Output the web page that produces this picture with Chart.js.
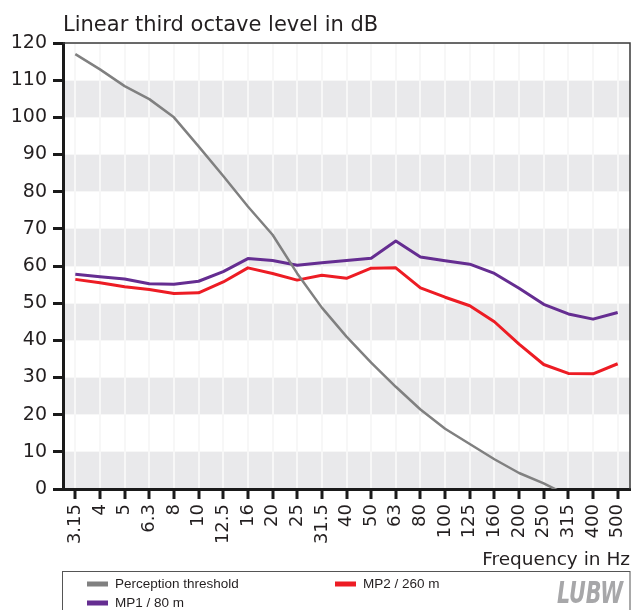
<!DOCTYPE html>
<html>
<head>
<meta charset="utf-8">
<script src="https://cdn.jsdelivr.net/npm/chart.js@4/dist/chart.umd.min.js"></script>
<style>
  html, body { margin: 0; padding: 0; background: #fff; }
  #wrap { width: 631px; height: 610px; }
</style>
</head>
<body>
<div id="wrap"><canvas id="levelChart" width="631" height="610"></canvas></div>
<script>
// third octave band centre frequencies (Hz)
const freqLabels = ['3.15', '4', '5', '6.3', '8', '10', '12.5', '16', '20', '25', '31.5',
    '40', '50', '63', '80', '100', '125', '160', '200', '250', '315', '400', '500'];

// levels in dB
const perceptionThreshold = [117, 112.9, 108.4, 104.9, 100, 92.2, 84.2, 76, 68.4, 58, 48.8,
    41, 34, 27.5, 21.4, 16.2, 12.1, 8, 4.3, 1.5, -1.8, null, null];
const mp1Level = [57.8, 57.1, 56.5, 55.2, 55.1, 55.9, 58.5, 62, 61.5, 60.2, 60.9,
    61.5, 62.1, 66.7, 62.4, 61.4, 60.5, 58, 54, 49.7, 47.1, 45.7, 47.5];
const mp2Level = [56.4, 55.5, 54.4, 53.7, 52.6, 52.8, 55.7, 59.5, 58, 56.2, 57.5,
    56.7, 59.4, 59.5, 54.1, 51.6, 49.3, 45, 39, 33.5, 31.1, 31, 33.7];

const seriesNames = ['Perception threshold', 'MP1 / 80 m', 'MP2 / 260 m'];

const yMin = 0;
const yMax = 120;
const yStep = 10;

const textColor = '#231f20';
const mainFont = '"DejaVu Sans", sans-serif';

// grey stripes behind every other 10 dB band
const bandPlugin = {
    id: 'bands',
    beforeDraw(chart) {
        const { ctx, chartArea, scales } = chart;
        ctx.save();
        ctx.fillStyle = '#e9e9eb';
        for (let v = yMin; v < yMax; v += 2 * yStep) {
            const top = scales.y.getPixelForValue(v + yStep);
            const bottom = scales.y.getPixelForValue(v);
            ctx.fillRect(chartArea.left, top, chartArea.right - chartArea.left, bottom - top);
        }
        ctx.restore();
    }
};

// frame, headings, legend box and logo
const decorPlugin = {
    id: 'decor',
    afterDraw(chart) {
        const { ctx, chartArea } = chart;
        ctx.save();

        // thin frame on top and right
        ctx.strokeStyle = '#3a3a3a';
        ctx.lineWidth = 1.5;
        ctx.beginPath();
        ctx.moveTo(chartArea.left, chartArea.top);
        ctx.lineTo(chartArea.right, chartArea.top);
        ctx.lineTo(chartArea.right, chartArea.bottom);
        ctx.stroke();

        ctx.fillStyle = textColor;
        ctx.font = '21px ' + mainFont;
        ctx.textBaseline = 'alphabetic';
        ctx.textAlign = 'left';
        ctx.fillText('Linear third octave level in dB', 63, 31);

        ctx.font = '18.5px ' + mainFont;
        ctx.textAlign = 'right';
        ctx.fillText('Frequency in Hz', 630, 565);

        // legend
        ctx.strokeStyle = '#555';
        ctx.lineWidth = 1;
        ctx.strokeRect(62.5, 571.5, 567.5, 60);

        const slots = [
            { x: 87, y: 584 },
            { x: 87, y: 603 },
            { x: 335, y: 584 }
        ];
        ctx.font = '13.5px "Liberation Sans", sans-serif';
        ctx.textAlign = 'left';
        ctx.textBaseline = 'middle';
        chart.data.datasets.forEach((ds, i) => {
            const s = slots[i];
            ctx.fillStyle = ds.borderColor;
            ctx.fillRect(s.x, s.y - 2.5, 21, 5);
            ctx.fillStyle = textColor;
            ctx.fillText(ds.label, s.x + 28, s.y + 0.5);
        });

        // logo
        ctx.fillStyle = '#a7a7a9';
        ctx.font = 'italic bold 30px "DejaVu Sans Condensed", "DejaVu Sans", sans-serif';
        ctx.textAlign = 'left';
        ctx.textBaseline = 'alphabetic';
        const w = ctx.measureText('LUBW').width;
        ctx.translate(557, 603);
        ctx.scale(66 / w, 1);
        ctx.fillText('LUBW', 0, 0);

        ctx.restore();
    }
};

const ctx = document.getElementById('levelChart').getContext('2d');
new Chart(ctx, {
    type: 'line',
    data: {
        labels: freqLabels,
        datasets: [{
            label: seriesNames[0],
            data: perceptionThreshold,
            borderColor: '#808080',
            borderWidth: 2.5,
            clip: 0
        }, {
            label: seriesNames[1],
            data: mp1Level,
            borderColor: '#652d91',
            borderWidth: 3
        }, {
            label: seriesNames[2],
            data: mp2Level,
            borderColor: '#ed1c24',
            borderWidth: 3
        }]
    },
    options: {
        responsive: false,
        animation: false,
        devicePixelRatio: 1,
        layout: {
            padding: { top: 43, right: 1, left: 0, bottom: 0 }
        },
        elements: {
            point: { radius: 0 },
            line: { tension: 0, borderCapStyle: 'butt', borderJoinStyle: 'round' }
        },
        plugins: {
            legend: { display: false },
            title: { display: false },
            tooltip: { enabled: false }
        },
        scales: {
            x: {
                type: 'category',
                offset: true,
                grid: {
                    offset: false,
                    color: '#f7f7f7',
                    lineWidth: 2,
                    tickColor: '#1a1a1a',
                    tickWidth: 3,
                    tickLength: 10
                },
                border: { color: '#1a1a1a', width: 3 },
                ticks: {
                    autoSkip: false,
                    minRotation: 90,
                    maxRotation: 90,
                    padding: 5,
                    color: textColor,
                    font: { family: mainFont, size: 18 }
                },
                afterFit(scale) {
                    scale.height = 121;
                    scale.paddingLeft = 0;
                    scale.paddingRight = 0;
                }
            },
            y: {
                min: yMin,
                max: yMax,
                grid: {
                    color: '#f7f7f7',
                    lineWidth: 1,
                    tickColor: '#1a1a1a',
                    tickWidth: 3,
                    tickLength: 10
                },
                border: { color: '#1a1a1a', width: 3 },
                ticks: {
                    stepSize: yStep,
                    padding: 6,
                    color: textColor,
                    font: { family: mainFont, size: 19 }
                },
                afterFit(scale) {
                    scale.width = 63;
                    scale.paddingTop = 0;
                    scale.paddingBottom = 0;
                }
            }
        }
    },
    plugins: [bandPlugin, decorPlugin]
});
</script>
</body>
</html>
